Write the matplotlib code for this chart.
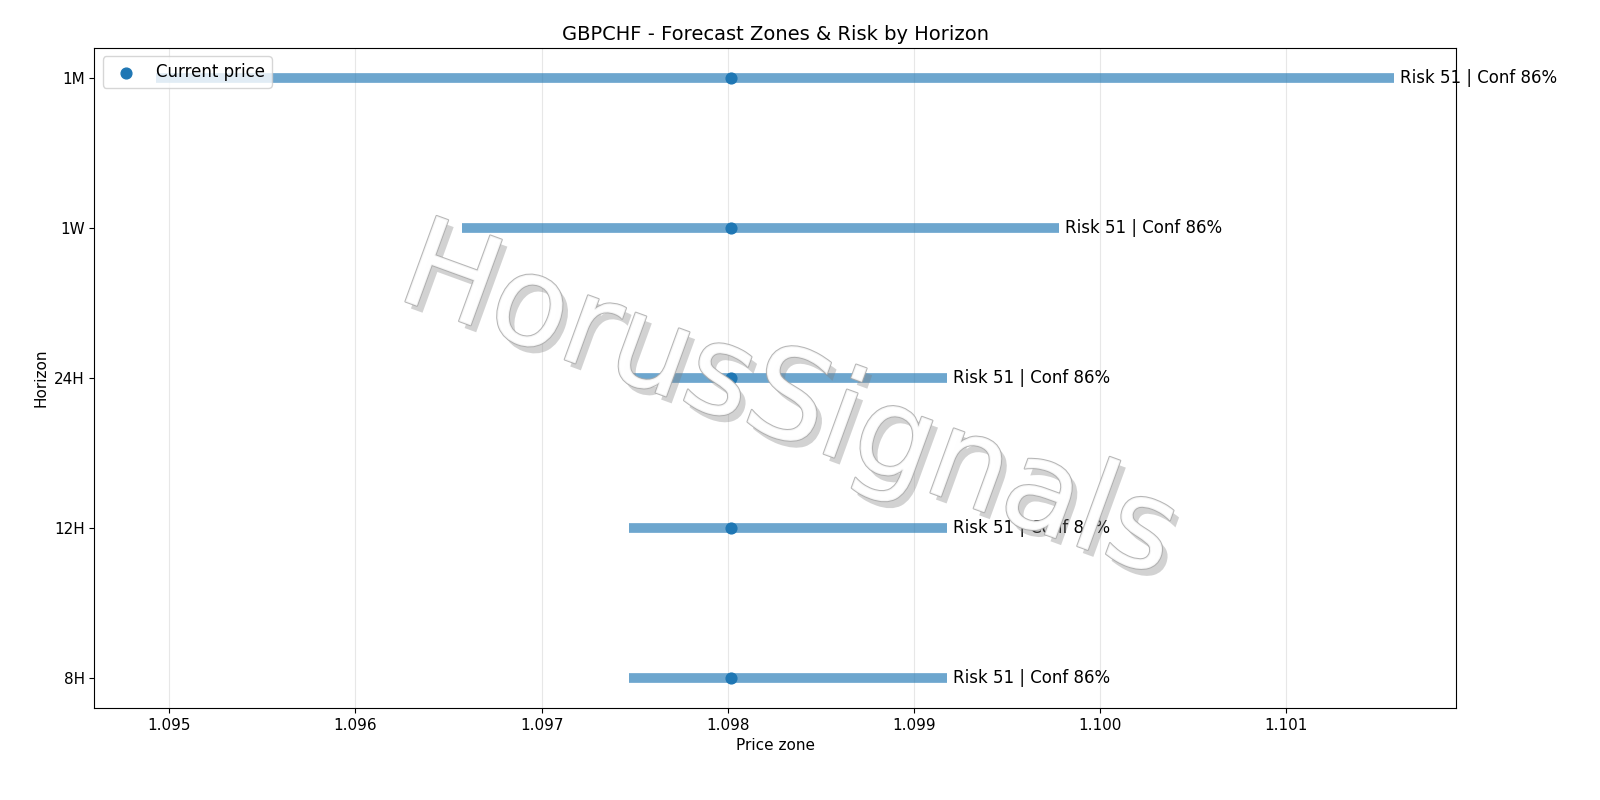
import matplotlib
matplotlib.use('Agg')
import matplotlib.pyplot as plt
import matplotlib.patheffects as pe

horizons = ['8H', '12H', '24H', '1W', '1M']
low = [1.09747, 1.09747, 1.09747, 1.09657, 1.09493]
high = [1.09918, 1.09918, 1.09918, 1.09978, 1.10158]
current = 1.09802
risk = [51, 51, 51, 51, 51]
conf = [86, 86, 86, 86, 86]

fig, ax = plt.subplots(figsize=(16, 8), dpi=100)
ys = list(range(len(horizons)))
ax.hlines(ys, low, high, color='C0', linewidth=7, alpha=0.65)
ax.scatter([current] * len(ys), ys, color='C0', s=60, zorder=3, label='Current price')
for y, h, r, c in zip(ys, high, risk, conf):
    ax.text(h + 0.00003, y, f'Risk {r} | Conf {c}%', va='center', fontsize=12)

ax.set_yticks(ys)
ax.set_yticklabels(horizons)
ax.set_xlabel('Price zone', fontsize=11)
ax.set_ylabel('Horizon', fontsize=11)
ax.set_title('GBPCHF - Forecast Zones & Risk by Horizon', fontsize=14)
ax.tick_params(labelsize=11)
ax.xaxis.grid(True, alpha=0.3)
ax.set_axisbelow(True)
ax.legend(loc='upper left', fontsize=12)
ax.ticklabel_format(axis='x', useOffset=False)

ax.text(0.51, 0.46, 'HorusSignals', transform=ax.transAxes, fontsize=90,
        rotation=-20, ha='center', va='center', color='white', alpha=0.85,
        path_effects=[pe.withSimplePatchShadow(offset=(4, -5), shadow_rgbFace='gray', alpha=0.35),
                      pe.Stroke(linewidth=1.5, foreground='#aaaaaa'), pe.Normal()])

fig.subplots_adjust(left=0.059, right=0.91, top=0.94, bottom=0.115)
plt.savefig('out.png')
